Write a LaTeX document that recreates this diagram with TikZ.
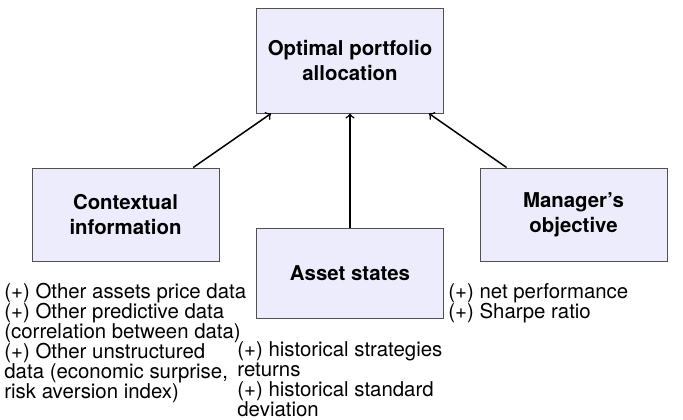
\documentclass[tikz,border=0pt]{standalone}
\usepackage{fontspec}
\setmainfont{TeX Gyre Heros}
\usetikzlibrary{calc}
\definecolor{boxfill}{RGB}{236,236,252}
\definecolor{boxline}{RGB}{80,80,80}
\begin{document}
\begin{tikzpicture}[x=0.5pt,y=-0.5pt]

    \tikzset{
      block/.style={
        draw=boxline,
        fill=boxfill,
        line width=0.5pt,
        minimum width=93.5pt,
        align=center,
        inner sep=0pt,
        font=\fontsize{10.2}{12.5}\selectfont\bfseries,
      },
      remark/.style={
        anchor=north west,
        align=left,
        inner sep=0pt,
        font=\fontsize{10.2}{10}\selectfont,
      },
      link/.style={
        line width=0.75pt,
        ->,
      },
    }
    \useasboundingbox (0,0) rectangle (683,419);
	\node[block, minimum height=52.5pt] (alloc) at (350,60.5) {Optimal portfolio\\allocation};
	\node[block, minimum height=46.5pt] (context) at (125.5,214.5) {Contextual\\information};
	\node[block, minimum height=45pt] (states) at (350,273) {Asset states};
	\node[block, minimum height=46.5pt] (goal) at (573.5,214.5) {Manager's\\objective};

	\node[remark] (contextnote) at (4,283) {(+) Other assets price data\\(+) Other predictive data\\(correlation between data)\\(+) Other unstructured\\data (economic surprise,\\risk aversion index)};
	\node[remark] (statesnote) at (237,341) {(+) historical strategies\\returns\\(+) historical standard\\deviation};
	\node[remark] (goalnote) at (448,283) {(+) net performance\\(+) Sharpe ratio};

	\draw[link] ($(context.north west)!0.86!(context.north east)$) -- ($(alloc.south west)!0.08!(alloc.south east)$);
	\draw[link] (states.north) -- (alloc.south);
	\draw[link] ($(goal.north west)!0.144!(goal.north east)$) -- ($(alloc.south west)!0.92!(alloc.south east)$);

\end{tikzpicture}
\end{document}
